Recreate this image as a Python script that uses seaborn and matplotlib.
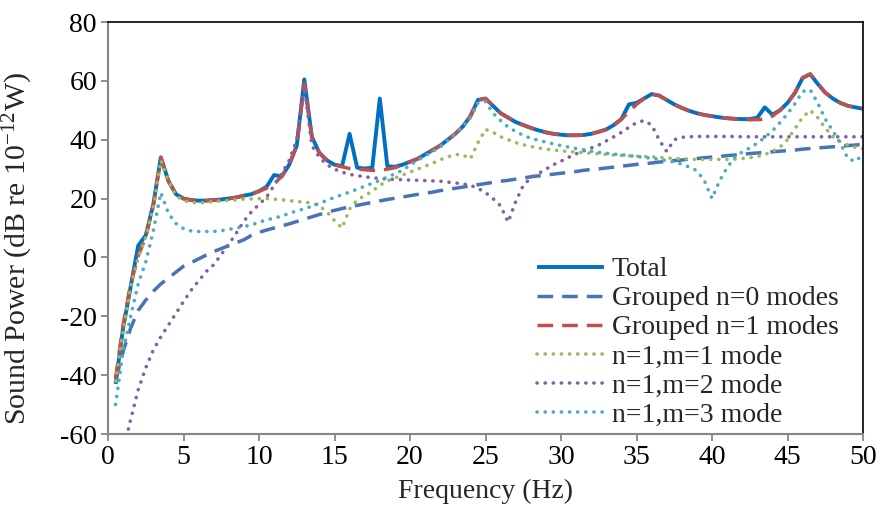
import numpy as np
import pandas as pd
import matplotlib
matplotlib.use("Agg")
import matplotlib.pyplot as plt
import seaborn as sns

# ---------------- data ----------------
freq = np.arange(0.5, 50.01, 0.5)

total = [-43, -24, -10, 4, 7.5, 18, 34, 26, 21.5, 20,
         19.5, 19.3, 19.3, 19.5, 19.7, 20, 20.4, 21, 21.5, 22.5,
         24, 28, 27.5, 31.5, 38, 60.5, 41, 35.5, 33, 31.5,
         31, 42, 30.5, 30.2, 30.5, 54, 31, 30.8, 31.5, 32.5,
         33.5, 35, 36.5, 38, 40, 42, 44.5, 48, 53.5, 54,
         51.5, 49, 47.5, 46, 45, 44, 43.2, 42.5, 42, 41.7,
         41.5, 41.5, 41.6, 42, 42.7, 43.5, 45, 47, 52, 52.5,
         54, 55.5, 55, 53.5, 52, 50.8, 49.8, 49, 48.4, 48,
         47.6, 47.3, 47.1, 47, 47, 47.5, 51, 48.5, 50, 52.5,
         56, 61, 62.3, 59, 56, 54, 52.5, 51.5, 51, 50.5]

grouped_n0 = [-42, -32, -24, -18, -14.5, -11.5, -9, -7, -5, -3,
              -1.8, -0.5, 0.8, 2, 3, 4, 5, 6, 7.5, 8.5,
              9.3, 10, 10.7, 11.4, 12.2, 13, 13.8, 14.6, 15.3, 16,
              16.6, 17.2, 17.7, 18.2, 18.7, 19.2, 19.7, 20.1, 20.5, 21,
              21.4, 21.8, 22.2, 22.7, 23.1, 23.5, 23.9, 24.3, 24.7, 25.1,
              25.5, 25.9, 26.2, 26.6, 27, 27.4, 27.7, 28, 28.3, 28.6,
              28.9, 29.2, 29.6, 29.9, 30.1, 30.4, 30.7, 31, 31.3, 31.6,
              31.8, 32.1, 32.4, 32.6, 32.9, 33.1, 33.4, 33.6, 33.9, 34.1,
              34.3, 34.6, 34.8, 35, 35.3, 35.5, 35.7, 35.9, 36.1, 36.3,
              36.5, 36.8, 37, 37.2, 37.4, 37.6, 37.8, 38, 38.2, 38.4]

grouped_n1 = [-41, -23, -9, 0.5, 7, 17.5, 34, 26, 21.5, 20,
              19.5, 19.3, 19.3, 19.5, 19.7, 20, 20.4, 21, 21.5, 22.5,
              23.5, 25, 27.5, 31.5, 38, 59, 41, 35.5, 33, 31.5,
              30.8, 30.2, 30, 29.8, 29.6, 29.5, 30, 30.5, 31.3, 32.5,
              33.5, 35, 36.5, 38, 40, 42, 44.5, 48, 53.5, 54,
              51.5, 49, 47.5, 46, 45, 44, 43.2, 42.5, 42, 41.7,
              41.5, 41.5, 41.6, 42, 42.7, 43.5, 45, 47, 49.5, 52,
              54, 55.5, 55, 53.5, 52, 50.8, 49.8, 49, 48.4, 48,
              47.6, 47.3, 47.1, 46.9, 46.8, 46.8, 47, 48, 50, 52.5,
              56, 61, 62.3, 59, 56, 54, 52.5, 51.5, 51, 50.5]

mode_11 = [-42, -25, -10, 0, 7, 17, 33, 26, 21, 19.3,
           18.7, 18.5, 18.7, 19, 19.2, 19.4, 19.6, 19.8, 19.9, 20,
           20, 19.8, 19.6, 19.3, 19, 18.8, 18.5, 17.5, 15.5, 12.5,
           10, 16.5, 19.5, 21, 22.5, 24.5, 26, 27, 28, 29,
           30, 31, 32, 33.2, 34.2, 35, 34.8, 33.5, 39, 43.5,
           42.5, 41, 40, 39, 38.3, 37.7, 37.2, 36.8, 36.5, 36.2,
           36, 35.8, 35.6, 35.4, 35.2, 35, 34.8, 34.7, 34.5, 34.4,
           34.3, 34.2, 34, 33.8, 33.6, 33.5, 33.4, 33.3, 33.3, 33.3,
           33.3, 33.3, 33.4, 33.6, 33.9, 34.3, 35, 36, 37.5, 40,
           43.8, 47.6, 50, 47.5, 44, 41, 39.3, 38.2, 37.4, 37]

mode_12 = [-80, -66, -55, -45, -37.5, -31.5, -27, -23, -19, -15,
           -11.2, -8, -4.8, -2.5, 1, 4.5, 8.3, 12.3, 15.5, 18,
           20.5, 24.5, 28.5, 33, 40, 58, 38, 34, 31.5, 30,
           29, 28.2, 27.8, 27.4, 27.1, 26.8, 26.6, 26.5, 26.4, 26.3,
           26.2, 26.1, 26, 25.9, 25.6, 25.3, 25, 24.5, 23.5, 22,
           20, 17.5, 12, 19, 24.5, 27, 28.5, 30, 31.5, 32.7,
           34, 35.2, 36.2, 37.2, 38.2, 39.6, 41, 42.5, 44.2, 45.8,
           46.5, 45, 40, 36, 40, 40.8, 41, 41.1, 41.1, 41.1,
           41.1, 41.1, 41.1, 41, 41, 41, 41, 41, 41, 41,
           41, 41, 41, 41, 41, 41, 41, 41, 41, 41]

mode_13 = [-50, -32, -20, -9, -1.5, 9, 22, 15, 11.5, 9.8,
           9, 8.8, 8.8, 8.8, 9.1, 9.5, 10, 10.5, 11, 12,
           12.7, 13.4, 14, 15, 15.8, 16.5, 17.4, 18.4, 19.4, 20.4,
           21.3, 22.2, 23.2, 24.2, 25.2, 26.2, 27.3, 28.4, 29.6, 31.3,
           33, 34.5, 36, 37.6, 39.8, 42, 44.5, 47.5, 52.5, 53,
           49, 46.5, 44.3, 42.8, 41.5, 40.5, 39.8, 39.2, 38.6, 38,
           37.5, 37, 36.6, 36.1, 35.7, 35.4, 35.1, 34.9, 34.6, 34.3,
           34, 33.7, 33.3, 32.9, 32.4, 31.7, 30.7, 29.5, 26, 20,
           26, 30.5, 34, 35.8, 37.2, 38.8, 40.8, 43, 45.8, 48.8,
           52.3, 56.4, 57, 52.5, 47, 43, 38.8, 33.6, 32.6, 35]

labels = ["Total", "Grouped n=0 modes", "Grouped n=1 modes",
          "n=1,m=1 mode", "n=1,m=2 mode", "n=1,m=3 mode"]
series = [total, grouped_n0, grouped_n1, mode_11, mode_12, mode_13]

x_ticks = list(range(0, 51, 5))
y_ticks = list(range(-60, 81, 20))

# ---------------- style ----------------
sns.set_theme(style="white")
plt.rcParams["font.family"] = ["Liberation Serif", "DejaVu Serif"]
plt.rcParams["mathtext.fontset"] = "custom"
plt.rcParams["mathtext.rm"] = "Liberation Serif"
plt.rcParams["mathtext.it"] = "Liberation Serif:italic"

FS = 20
colors = ["#0070C0", "#4674B4", "#C0504D", "#9BBB59", "#8064A2", "#4BACC6"]
dash = (0, (4.5, 2.6))
dot = (0, (0.05, 2.2))
styles = ["-", dash, dash, dot, dot, dot]
widths = [2.8, 2.5, 2.5, 2.6, 2.6, 2.6]

fig = plt.figure(figsize=(8.8, 5.09), dpi=100)
ax = fig.add_axes([108 / 880, 1 - 434 / 509, (863 - 108) / 880, (434 - 22) / 509])

for vals, lab, c, ls, lw in zip(series, labels, colors, styles, widths):
    df = pd.DataFrame({"Frequency": freq, "Power": vals})
    sns.lineplot(data=df, x="Frequency", y="Power", ax=ax, color=c,
                 linestyle=ls, linewidth=lw, label=lab,
                 solid_capstyle="butt", dash_capstyle="round" if ls is dot else "butt")

ax.set_xlim(0, 50)
ax.set_ylim(-60, 80)
ax.set_xticks(x_ticks)
ax.set_yticks(y_ticks)
ax.set_xticklabels([str(t) for t in x_ticks], fontsize=FS)
ax.set_yticklabels([str(t) for t in y_ticks], fontsize=FS)
ax.set_xlabel("Frequency (Hz)", fontsize=FS, labelpad=6)
ax.set_ylabel(r"Sound Power (dB re 10$^{\mathregular{-12}}$W)", fontsize=21.5)
ax.yaxis.set_label_coords(-0.097, 0.45)

for side in ["left", "bottom"]:
    ax.spines[side].set_color("#868686")
    ax.spines[side].set_linewidth(1.5)
for side in ["top", "right"]:
    ax.spines[side].set_color("black")
    ax.spines[side].set_linewidth(1.2)
    ax.spines[side].set_visible(True)

ax.tick_params(axis="both", which="major", direction="out", length=5,
               width=1.3, color="#868686", labelcolor="black", pad=3)
ax.tick_params(axis="x", bottom=True)
ax.tick_params(axis="y", left=True)

leg = ax.legend(loc="lower right", bbox_to_anchor=(0.99, -0.025), frameon=False,
                fontsize=FS, handlelength=2.4, handletextpad=0.3,
                labelspacing=0.13, borderaxespad=0.2)

fig.savefig("out.png", dpi=100)
